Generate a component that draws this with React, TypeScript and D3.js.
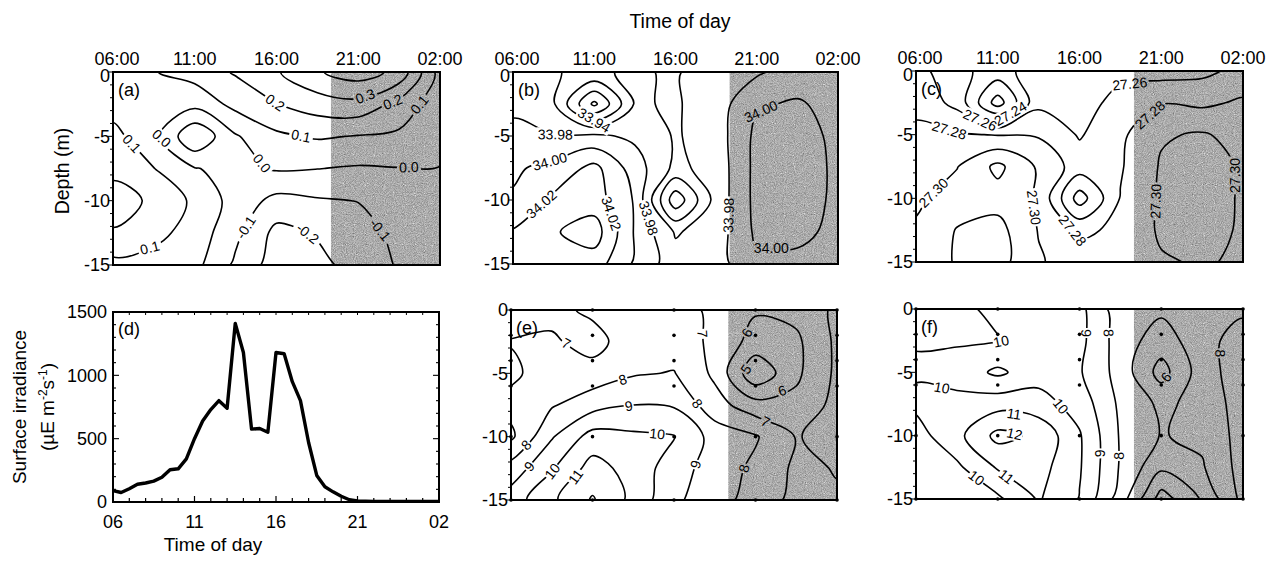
import React from 'react';
import * as d3 from 'd3';

// contour grids: columns are hours of the day (26 = 02:00 next day), rows are depths in m
const gridHours = [6, 8.5, 11, 13.5, 16, 18.5, 21, 23.5, 26];
const gridDepths = [0, 2.5, 5, 7.5, 10, 12.5, 15];

const timeTicks = [6, 11, 16, 21, 26];
const timeTickLabels = ['06:00', '11:00', '16:00', '21:00', '02:00'];
const shortTimeLabels = ['06', '11', '16', '21', '02'];
const depthTicks = [0, 5, 10, 15];
const irrTicks = [0, 500, 1000, 1500];
const nightStart = 19.33;
const stationHours = [6, 11, 16, 21, 26];
const stationDepths = [0, 2, 4, 6, 10, 15];

// (a) temperature anomaly
const gridA = [
  [0.05, 0.095, 0.14, 0.21, 0.29, 0.39, 0.45, 0.37, 0.06],
  [0.06, 0.02, 0.03, 0.13, 0.198, 0.25, 0.27, 0.17, 0.03],
  [0.13, 0.03, -0.19, -0.01, 0.08, 0.11, 0.095, 0.08, 0.04],
  [0.17, 0.102, 0.005, -0.03, 0.01, 0.002, -0.01, -0.003, -0.003],
  [0.25, 0.18, 0.08, -0.04, -0.13, -0.11, -0.098, -0.07, -0.05],
  [0.19, 0.13, 0.06, -0.075, -0.23, -0.19, -0.13, -0.08, -0.05],
  [0.07, 0.06, 0.03, -0.12, -0.25, -0.23, -0.16, -0.09, -0.05],
];
const levelsA = [-0.2, -0.1, 0, 0.1, 0.2, 0.3, 0.4];
const labelsA: [number, string, number, number][] = [
  [0.3, '0.3', 21.4, 1.8], [0.2, '0.2', 15.9, 2.4], [0.2, '0.2', 23.1, 2.3],
  [0.1, '0.1', 24.8, 2.6], [0.1, '0.1', 17.5, 5.0], [0.1, '0.1', 7.2, 5.5],
  [0.1, '0.1', 8.2, 13.4], [0, '0.0', 8.8, 5.4], [0, '0.0', 15.2, 7.0],
  [0, '0.0', 24.1, 7.4], [-0.1, '-0.1', 13.9, 11.9], [-0.2, '-0.2', 18.0, 12.4],
  [-0.1, '-0.1', 22.2, 12.4],
];

// (b) salinity
const gridB = [
  [33.972, 33.9605, 33.958, 33.962, 33.958, 33.972, 33.977, 33.99, 33.99],
  [33.976, 33.962, 33.895, 33.962, 33.958, 33.97, 33.998, 34.002, 33.994],
  [33.985, 33.981, 33.984, 33.976, 33.958, 33.97, 34.005, 34.007, 33.996],
  [33.997, 34.006, 34.026, 33.99, 33.955, 33.968, 34.006, 34.008, 33.997],
  [34.002, 34.024, 34.03, 33.998, 33.906, 33.968, 34.006, 34.007, 33.997],
  [34.022, 34.038, 34.05, 33.998, 33.958, 33.97, 34.004, 34.004, 33.996],
  [34.026, 34.03, 34.03, 33.997, 33.968, 33.972, 33.996, 33.996, 33.994],
];
const levelsB = [33.9, 33.92, 33.94, 33.96, 33.98, 34.0, 34.02, 34.04];
const labelsB: [number, string, number, number][] = [
  [33.94, '33.94', 11.0, 3.9], [33.98, '33.98', 8.6, 4.8], [34.0, '34.00', 8.2, 6.7],
  [34.02, '34.02', 7.8, 10.4], [34.02, '34.02', 11.7, 11.2], [33.98, '33.98', 13.9, 11.6],
  [33.98, '33.98', 19.2, 11.2], [34.0, '34.00', 21.3, 3.2], [34.0, '34.00', 21.9, 12.7],
];

// (c) density
const gridC = [
  [27.268, 27.245, 27.232, 27.25, 27.252, 27.254, 27.252, 27.255, 27.266],
  [27.274, 27.254, 27.19, 27.255, 27.25, 27.268, 27.279, 27.276, 27.283],
  [27.285, 27.282, 27.279, 27.278, 27.258, 27.276, 27.298, 27.302, 27.293],
  [27.29, 27.299, 27.325, 27.297, 27.27, 27.278, 27.302, 27.308, 27.298],
  [27.296, 27.31, 27.312, 27.298, 27.23, 27.281, 27.303, 27.308, 27.298],
  [27.303, 27.321, 27.327, 27.299, 27.276, 27.284, 27.303, 27.306, 27.298],
  [27.305, 27.322, 27.328, 27.302, 27.29, 27.288, 27.298, 27.302, 27.297],
];
const levelsC = [27.2, 27.22, 27.24, 27.26, 27.28, 27.3, 27.32];
const labelsC: [number, string, number, number][] = [
  [27.26, '27.26', 9.9, 3.9], [27.24, '27.24', 11.8, 3.4], [27.28, '27.28', 8.0, 4.8],
  [27.26, '27.26', 19.1, 1.3], [27.28, '27.28', 20.2, 3.3], [27.3, '27.30', 7.4, 10.0],
  [27.3, '27.30', 12.7, 10.8], [27.28, '27.28', 15.7, 12.4], [27.3, '27.30', 25.2, 8.2],
  [27.3, '27.30', 19.9, 10.2],
];

// (e) night/day field 1
const gridE = [
  [6.5, 6.7, 7.2, 7.4, 7.4, 6.8, 6.1, 6.3, 7.2],
  [7.05, 7.15, 6.6, 7.6, 7.5, 6.8, 5.6, 5.8, 7.2],
  [6.8, 7.5, 7.4, 7.9, 8.05, 6.8, 4.2, 5.8, 7.2],
  [7.3, 7.9, 8.6, 9.0, 8.9, 7.4, 6.4, 6.3, 7.3],
  [6.8, 8.9, 10.4, 10.2, 10.05, 8.6, 8.1, 6.95, 7.3],
  [8.4, 9.9, 11.4, 10.6, 9.5, 8.5, 7.8, 6.8, 7.05],
  [9.5, 10.8, 12.1, 10.7, 9.2, 8.4, 7.6, 6.7, 6.9],
];
const levelsE = [5, 6, 7, 8, 9, 10, 11, 12];
const labelsE: [number, string, number, number][] = [
  [7, '7', 9.7, 1.9], [7, '7', 17.6, 1.9], [6, '6', 20.2, 1.6], [5, '5', 20.1, 4.4],
  [6, '6', 22.9, 7.4], [7, '7', 21.7, 8.6], [8, '8', 12.9, 5.7], [8, '8', 17.3, 7.5],
  [9, '9', 13.2, 7.4], [10, '10', 15.0, 9.4], [9, '9', 17.6, 12.3], [8, '8', 20.0, 12.3],
  [8, '8', 7.35, 11.2], [9, '9', 7.45, 12.7], [10, '10', 8.6, 12.8], [11, '11', 9.9, 13.1],
];

// (f) night/day field 2
const gridF = [
  [10.3, 10.2, 9.8, 9.6, 9.3, 7.4, 7.2, 7.4, 7.8],
  [10.05, 10.1, 10.05, 9.7, 9.3, 7.5, 6.5, 7.6, 8.5],
  [9.9, 9.6, 8.8, 9.6, 9.1, 7.6, 5.6, 7.5, 8.6],
  [10.2, 10.3, 10.6, 10.4, 9.6, 7.8, 6.8, 7.3, 8.5],
  [9.6, 10.7, 12.3, 11.8, 10.1, 7.9, 6.95, 7.2, 8.4],
  [9.3, 9.8, 11.1, 11.4, 10.1, 7.9, 6.2, 6.9, 8.4],
  [9.0, 9.4, 9.8, 11.1, 9.95, 7.5, 4.5, 6.1, 8.3],
];
const levelsF = [5, 6, 7, 8, 9, 10, 11, 12];
const labelsF: [number, string, number, number][] = [
  [10, '10', 11.2, 2.5], [10, '10', 7.55, 6.4], [10, '10', 15.3, 7.2], [11, '11', 12.0, 8.3],
  [12, '12', 12.0, 10.0], [11, '11', 11.6, 13.1], [10, '10', 9.6, 13.5], [9, '9', 16.1, 1.9],
  [8, '8', 17.7, 1.9], [9, '9', 17.8, 11.4], [8, '8', 18.7, 11.6], [6, '6', 21.5, 5.6],
  [8, '8', 24.3, 3.5],
];

// (d) surface irradiance
const irrHours = [6, 6.5, 7, 7.5, 8, 8.5, 9, 9.5, 10, 10.5, 11, 11.5, 12, 12.5, 13, 13.5, 14, 14.5,
  15, 15.5, 16, 16.5, 17, 17.5, 18, 18.5, 19, 19.5, 20, 20.5, 21, 22, 23, 24, 25, 26];
const irrValues = [90, 75, 105, 140, 150, 165, 195, 255, 262, 340, 500, 640, 730, 800, 740, 1410, 1180, 575,
  580, 550, 1180, 1170, 950, 800, 470, 210, 120, 80, 45, 18, 8, 5, 5, 5, 5, 5];

const FONT = "'Liberation Sans', Arial, sans-serif";

type Box = { x0: number; x1: number; y0: number; y1: number };

function ContourPanel({ id, grid, levels, labels, box, letter, topAxis, stations }: {
  id: string; grid: number[][]; levels: number[]; labels: [number, string, number, number][];
  box: Box; letter: string; topAxis: boolean; stations: boolean;
}) {
  const { x0, x1, y0, y1 } = box;
  const x = d3.scaleLinear().domain([6, 26]).range([x0, x1]);
  const y = d3.scaleLinear().domain([0, 15]).range([y0, y1]);
  const n = gridHours.length;
  const m = gridDepths.length;
  const gx = d3.scaleLinear().domain([0.5, n - 0.5]).range([gridHours[0], gridHours[n - 1]]);
  const gy = d3.scaleLinear().domain([0.5, m - 0.5]).range([gridDepths[0], gridDepths[m - 1]]);
  const contours = d3.contours().size([n, m]).thresholds(levels)(grid.flat());

  const rings: { value: number; pts: [number, number][] }[] = [];
  contours.forEach((c) => {
    c.coordinates.forEach((poly) => {
      poly.forEach((ring) => {
        rings.push({
          value: c.value,
          pts: ring.slice(0, -1).map((p) => [x(gx(p[0])), y(gy(p[1]))] as [number, number]),
        });
      });
    });
  });
  const line = d3.line().curve(d3.curveCatmullRomClosed.alpha(0.5));

  const outside = (p: [number, number]) => p[0] < x0 - 1 || p[0] > x1 + 1 || p[1] < y0 - 1 || p[1] > y1 + 1;
  const placed = labels.map(([level, text, t, d]) => {
    const tx = x(t);
    const ty = y(d);
    let best = { x: tx, y: ty, angle: 0, dist: 1e9 };
    rings.forEach((r) => {
      if (Math.abs(r.value - level) > 1e-9) return;
      const p = r.pts;
      for (let i = 0; i < p.length; i++) {
        const a = p[i];
        const b = p[(i + 1) % p.length];
        if (outside(a) || outside(b)) continue;
        const dx = b[0] - a[0];
        const dy = b[1] - a[1];
        const l2 = dx * dx + dy * dy || 1;
        const u = Math.max(0, Math.min(1, ((tx - a[0]) * dx + (ty - a[1]) * dy) / l2));
        const px = a[0] + u * dx;
        const py = a[1] + u * dy;
        const dist = Math.hypot(px - tx, py - ty);
        if (dist < best.dist) best = { x: px, y: py, angle: (Math.atan2(dy, dx) * 180) / Math.PI, dist };
      }
    });
    if (best.dist > 22) best = { x: tx, y: ty, angle: 0, dist: 0 };
    let ang = best.angle;
    if (ang > 90) ang -= 180;
    if (ang < -90) ang += 180;
    return { text, x: best.x, y: best.y, angle: ang, w: text.length * 7 + 3 };
  });

  const minor = d3.range(0, 16);
  return (
    <g>
      <defs>
        <clipPath id={`clip-${id}`}>
          <rect x={x0} y={y0} width={x1 - x0} height={y1 - y0} />
        </clipPath>
        <mask id={`mask-${id}`} maskUnits="userSpaceOnUse" x={0} y={0} width={1272} height={567}>
          <rect x={0} y={0} width={1272} height={567} fill="#fff" />
          {placed.map((l, i) => (
            <rect key={i} x={-l.w / 2} y={-7} width={l.w} height={14} fill="#000"
              transform={`translate(${l.x},${l.y}) rotate(${l.angle})`} />
          ))}
        </mask>
      </defs>
      <rect x={x(nightStart)} y={y0} width={x1 - x(nightStart)} height={y1 - y0} fill="#a9a9a9" filter="url(#stipple)" />
      <g clipPath={`url(#clip-${id})`}>
        <g mask={`url(#mask-${id})`}>
          {rings.map((r, i) => (
            <path key={i} d={line(r.pts) || ''} fill="none" stroke="#000" strokeWidth={1.6} />
          ))}
        </g>
      </g>
      {placed.map((l, i) => (
        <text key={i} transform={`translate(${l.x},${l.y}) rotate(${l.angle})`} textAnchor="middle"
          dy="0.36em" fontSize={14} fontFamily={FONT}>{l.text}</text>
      ))}
      {stations && stationHours.map((t) => stationDepths.map((d) => (
        <circle key={`${t}-${d}`} cx={x(t)} cy={y(d)} r={1.8} fill="#000" />
      )))}
      <rect x={x0} y={y0} width={x1 - x0} height={y1 - y0} fill="none" stroke="#000" strokeWidth={2} />
      {minor.map((d) => (
        <line key={d} x1={x0} x2={x0 - (d % 5 === 0 ? 5 : 3)} y1={y(d)} y2={y(d)} stroke="#000" strokeWidth={1} />
      ))}
      {depthTicks.map((d) => (
        <text key={d} x={x0 - 3} y={y(d) + (d === 0 && topAxis ? 4 : 0)} dy="0.36em" textAnchor="end"
          fontSize={18} fontFamily={FONT}>
          {d === 0 ? '0' : `-${d}`}
        </text>
      ))}
      {topAxis && timeTicks.map((t, i) => (
        <text key={t} x={x(t) + (i === 0 ? 4 : 0)} y={y0 - 7} textAnchor="middle" fontSize={18} fontFamily={FONT}>
          {timeTickLabels[i]}
        </text>
      ))}
      <text x={x0 + 5} y={y0 + 24} fontSize={18} fontFamily={FONT}>{letter}</text>
    </g>
  );
}

function IrradiancePanel({ box }: { box: Box }) {
  const { x0, x1, y0, y1 } = box;
  const x = d3.scaleLinear().domain([6, 26]).range([x0, x1]);
  const y = d3.scaleLinear().domain([0, 1500]).range([y1, y0]);
  const line = d3.line<number>().x((_, i) => x(irrHours[i])).y((v) => y(v));
  const hourTicks = d3.range(6, 27);
  const valTicks = d3.range(0, 1501, 100);
  return (
    <g>
      <path d={line(irrValues) || ''} fill="none" stroke="#000" strokeWidth={3.4} strokeLinejoin="round" />
      <rect x={x0} y={y0} width={x1 - x0} height={y1 - y0} fill="none" stroke="#000" strokeWidth={2} />
      {hourTicks.map((h) => {
        const len = (h - 6) % 5 === 0 ? 6 : 4;
        return (
          <g key={h}>
            <line x1={x(h)} x2={x(h)} y1={y1} y2={y1 - len} stroke="#000" strokeWidth={1.2} />
            <line x1={x(h)} x2={x(h)} y1={y0} y2={y0 + 3} stroke="#000" strokeWidth={1} />
          </g>
        );
      })}
      {valTicks.map((v) => {
        const len = v % 500 === 0 ? 6 : 3;
        return (
          <g key={v}>
            <line x1={x0} x2={x0 + len} y1={y(v)} y2={y(v)} stroke="#000" strokeWidth={1.1} />
            <line x1={x1} x2={x1 - len} y1={y(v)} y2={y(v)} stroke="#000" strokeWidth={1.1} />
          </g>
        );
      })}
      {irrTicks.map((v) => (
        <text key={v} x={x0 - 6} y={y(v)} dy="0.36em" textAnchor="end" fontSize={18} fontFamily={FONT}>{v}</text>
      ))}
      {timeTicks.map((t, i) => (
        <text key={t} x={x(t)} y={y1 + 26} textAnchor="middle" fontSize={18} fontFamily={FONT}>{shortTimeLabels[i]}</text>
      ))}
      <text x={x0 + 5} y={y0 + 23} fontSize={18} fontFamily={FONT}>(d)</text>
    </g>
  );
}

export default function App() {
  return (
    <svg width={1272} height={567} viewBox="0 0 1272 567"
      style={{ position: 'absolute', left: 0, top: 0, background: '#fff' }}>
      <defs>
        <filter id="stipple" x="0" y="0" width="1" height="1" colorInterpolationFilters="sRGB">
          <feTurbulence type="fractalNoise" baseFrequency="1.1" numOctaves={1} seed={11} />
          <feColorMatrix type="matrix" values="1 0 0 0 0  1 0 0 0 0  1 0 0 0 0  0 0 0 0 1" />
          <feComponentTransfer>
            <feFuncR type="discrete" tableValues="0.3 0.48 0.58 0.64 0.7 0.76 0.86 0.97" />
            <feFuncG type="discrete" tableValues="0.3 0.48 0.58 0.64 0.7 0.76 0.86 0.97" />
            <feFuncB type="discrete" tableValues="0.3 0.48 0.58 0.64 0.7 0.76 0.86 0.97" />
          </feComponentTransfer>
          <feComposite operator="in" in2="SourceGraphic" />
        </filter>
      </defs>
      <text x={680} y={28} textAnchor="middle" fontSize={19.5} fontFamily={FONT}>Time of day</text>
      <text transform="translate(62,171) rotate(-90)" textAnchor="middle" dy="0.36em" fontSize={19.5} fontFamily={FONT}>Depth (m)</text>
      <ContourPanel id="a" grid={gridA} levels={levelsA} labels={labelsA} box={{ x0: 113, x1: 440, y0: 72, y1: 265 }} letter="(a)" topAxis stations={false} />
      <ContourPanel id="b" grid={gridB} levels={levelsB} labels={labelsB} box={{ x0: 513, x1: 838, y0: 72, y1: 264 }} letter="(b)" topAxis stations={false} />
      <ContourPanel id="c" grid={gridC} levels={levelsC} labels={labelsC} box={{ x0: 916, x1: 1243, y0: 71, y1: 262 }} letter="(c)" topAxis stations={false} />
      <ContourPanel id="e" grid={gridE} levels={levelsE} labels={labelsE} box={{ x0: 511, x1: 837, y0: 310, y1: 500 }} letter="(e)" topAxis={false} stations />
      <ContourPanel id="f" grid={gridF} levels={levelsF} labels={labelsF} box={{ x0: 916, x1: 1243, y0: 309, y1: 499 }} letter="(f)" topAxis={false} stations />
      <IrradiancePanel box={{ x0: 113, x1: 439, y0: 312, y1: 502 }} />
      <text transform="translate(19,407) rotate(-90)" textAnchor="middle" dy="0.36em" fontSize={19} fontFamily={FONT}>Surface irradiance</text>
      <text transform="translate(47,407) rotate(-90)" textAnchor="middle" dy="0.36em" fontSize={19} fontFamily={FONT}>
        (µE m<tspan dy={-7} fontSize={12}>-2</tspan><tspan dy={7}>s</tspan><tspan dy={-7} fontSize={12}>-1</tspan><tspan dy={7}>)</tspan>
      </text>
      <text x={213} y={551} textAnchor="middle" fontSize={19} fontFamily={FONT}>Time of day</text>
    </svg>
  );
}
